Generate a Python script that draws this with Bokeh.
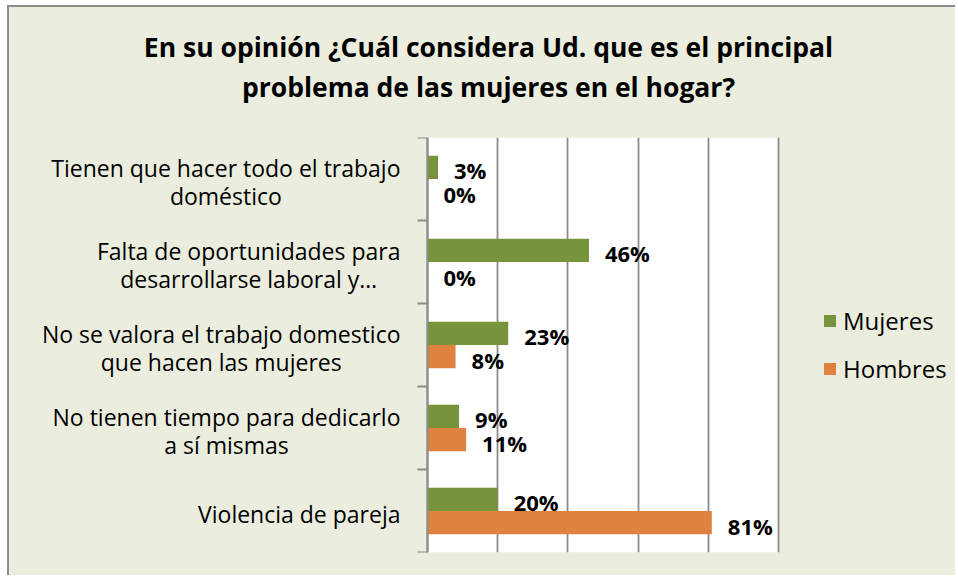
from bokeh.plotting import figure
from bokeh.models import (Range1d, FixedTicker, Legend, LegendItem, ColumnDataSource,
                          Title, BoxAnnotation)
from bokeh.embed import file_html
from bokeh.resources import INLINE
from bokeh.core.properties import value

# ---- data ----
categories = [
    "Tienen que hacer todo el trabajo\ndoméstico",
    "Falta de oportunidades para\ndesarrollarse laboral y…",
    "No se valora el trabajo domestico\nque hacen las mujeres",
    "No tienen tiempo para dedicarlo\na sí mismas",
    "Violencia de pareja",
]
mujeres = [3, 46, 23, 9, 20]
hombres = [0, 0, 8, 11, 81]
series_names = ["Mujeres", "Hombres"]
x_ticks = [0, 20, 40, 60, 80, 100]
title_lines = ["En su opinión ¿Cuál considera Ud. que es el principal",
               "problema de las mujeres en el hogar?"]

# ---- style / layout ----
GREEN = "#77933C"
ORANGE = "#E0823F"
GRID = "#8C8C8C"
BG = "#EBEEDE"
FONT = "Open Sans"

W, H = 948, 570
MB_L, MB_R, MB_T, MB_B = 20, 10, 130, 25
PLOT_LEFT = 398      # px from frame left to the value axis
PLOT_W = 351         # px width of the 0..100 area
frame_w = W - MB_L - MB_R
x_start = x_ticks[0] - PLOT_LEFT / PLOT_W * (x_ticks[-1] - x_ticks[0])
x_end = x_ticks[0] + (frame_w - PLOT_LEFT) / PLOT_W * (x_ticks[-1] - x_ticks[0])

n = len(categories)
centers = [n - i - 0.5 for i in range(n)]
bounds = list(range(n + 1))
bar_h = 0.28

src_m = ColumnDataSource(dict(y=[c + bar_h / 2 for c in centers], v=mujeres,
                              lab=[f"{v}%" for v in mujeres]))
src_h = ColumnDataSource(dict(y=[c - bar_h / 2 for c in centers], v=hombres,
                              lab=[f"{v}%" for v in hombres]))
src_c = ColumnDataSource(dict(y=centers, x=[x_ticks[0]] * n, t=categories))

p = figure(width=W, height=H, output_backend="svg", toolbar_location=None,
           x_range=Range1d(x_start, x_end), y_range=Range1d(0, n),
           min_border_left=MB_L, min_border_right=MB_R,
           min_border_top=MB_T, min_border_bottom=MB_B, title=None)
p.styles = {"margin-left": "7px", "margin-top": "5px",
            "background-color": BG,
            "border-left": f"2px solid {GRID}", "border-top": f"2px solid {GRID}"}
p.border_fill_color = None
p.background_fill_color = None
p.outline_line_color = None

# title (two centred lines; first added is closest to the plot)
p.add_layout(Title(text=title_lines[1], align="center", text_font=FONT,
                   text_font_size="26.5px", text_font_style="bold",
                   text_color="black", standoff=0,
                   padding=dict(left=0, right=0, top=0, bottom=33)), "above")
p.add_layout(Title(text=title_lines[0], align="center", text_font=FONT,
                   text_font_size="26.5px", text_font_style="bold",
                   text_color="black", standoff=4), "above")

# white plotting area
p.add_layout(BoxAnnotation(left=x_ticks[0], right=x_ticks[-1], fill_color="white",
                           fill_alpha=1, line_color=None, level="image"))

r_m = p.hbar(y="y", right="v", left=0, height=bar_h, source=src_m,
             fill_color=GREEN, line_color=None)
r_h = p.hbar(y="y", right="v", left=0, height=bar_h, source=src_h,
             fill_color=ORANGE, line_color=None)

for s in (src_m, src_h):
    p.text(x="v", y="y", text="lab", source=s, x_offset=16, y_offset=3,
           text_baseline="middle", text_align="left",
           text_font=value(FONT), text_font_style="bold",
           text_font_size="22px", text_color="black")

# category labels: block right-aligned next to the axis, lines centred
p.text(x="x", y="y", text="t", source=src_c, x_offset=-27, y_offset=3,
       anchor="center_right", text_align="center", text_baseline="middle",
       text_font=value(FONT), text_font_size="23px", text_color="black",
       text_line_height=0.86)

p.xaxis.visible = False
p.xgrid.ticker = FixedTicker(ticks=x_ticks)
p.xgrid.grid_line_color = GRID
p.xgrid.grid_line_width = 1.8
p.ygrid.grid_line_color = None

ax = p.yaxis[0]
ax.fixed_location = x_ticks[0]
ax.ticker = FixedTicker(ticks=[], minor_ticks=bounds)
ax.major_tick_line_color = None
ax.major_tick_out = 0
ax.major_tick_in = 0
ax.minor_tick_out = 10
ax.minor_tick_in = 0
ax.minor_tick_line_color = GRID
ax.minor_tick_line_width = 2
ax.axis_line_color = GRID
ax.axis_line_width = 2
ax.major_label_standoff = 0

legend = Legend(items=[LegendItem(label=series_names[0], renderers=[r_m]),
                       LegendItem(label=series_names[1], renderers=[r_h])],
                location=(793, 167), orientation="vertical",
                padding=0, margin=0, spacing=15,
                glyph_width=15, glyph_height=15, label_height=26,
                label_standoff=6, background_fill_alpha=0,
                border_line_color=None,
                label_text_font=FONT, label_text_font_size="24px",
                label_text_color="black")
p.add_layout(legend, "center")

open("out.html", "w").write(file_html(p, INLINE))
